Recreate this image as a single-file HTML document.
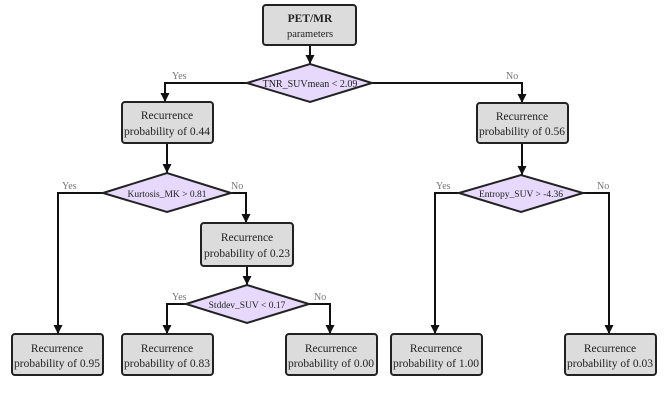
<!DOCTYPE html>
<html><head><meta charset="utf-8"><style>
html,body{margin:0;padding:0;background:#fff;}
svg{display:block;}
text{font-family:"Liberation Serif",serif;fill:#222;}
.b{fill:#dcdcdc;stroke:#222;stroke-width:2;}
.d{fill:#e6d9fb;stroke:#222;stroke-width:2;}
.l{fill:none;stroke:#111;stroke-width:2;}
.lb{font-size:10px;fill:#777;}
</style></head><body>
<svg width="666" height="400" viewBox="0 0 666 400">
<defs>
<marker id="m" viewBox="0 0 10 10" refX="10" refY="5" markerWidth="9" markerHeight="12" orient="auto" markerUnits="userSpaceOnUse"><path d="M0,0L10,5L0,10z" fill="#111"/></marker></defs>
<path class="l" d="M310,45V64" marker-end="url(#m)"/>
<path class="l" d="M247,83H165V102" marker-end="url(#m)"/>
<path class="l" d="M372,83H522V103" marker-end="url(#m)"/>
<path class="l" d="M167,143V173" marker-end="url(#m)"/>
<path class="l" d="M103,193H58V334" marker-end="url(#m)"/>
<path class="l" d="M231,193H246V223" marker-end="url(#m)"/>
<path class="l" d="M247,266V285" marker-end="url(#m)"/>
<path class="l" d="M186,304H167V334" marker-end="url(#m)"/>
<path class="l" d="M309,304H330V334" marker-end="url(#m)"/>
<path class="l" d="M522,143V175" marker-end="url(#m)"/>
<path class="l" d="M459,193H435V334" marker-end="url(#m)"/>
<path class="l" d="M583,193H609V334" marker-end="url(#m)"/>
<text class="lb" x="172" y="79">Yes</text>
<text class="lb" x="506" y="79">No</text>
<text class="lb" x="62" y="189">Yes</text>
<text class="lb" x="231" y="189">No</text>
<text class="lb" x="172" y="300">Yes</text>
<text class="lb" x="314" y="300">No</text>
<text class="lb" x="436" y="189">Yes</text>
<text class="lb" x="597" y="189">No</text>
<rect class="b" x="263" y="5" width="93" height="40" rx="3"/>
<text x="310" y="22" text-anchor="middle" font-size="11.5" font-weight="bold">PET/MR</text>
<text x="310" y="37" text-anchor="middle" font-size="10.5">parameters</text>
<polygon class="d" points="247,83 310,64 372,83 310,102"/>
<text x="310" y="87" text-anchor="middle" font-size="10">TNR_SUVmean &lt; 2.09</text>
<polygon class="d" points="103,193 167,173 231,193 167,212"/>
<text x="167" y="197" text-anchor="middle" font-size="9.5">Kurtosis_MK &gt; 0.81</text>
<polygon class="d" points="186,304 247,285 309,304 247,323"/>
<text x="247" y="308" text-anchor="middle" font-size="9.5">Stddev_SUV &lt; 0.17</text>
<polygon class="d" points="459,193 521,175 583,193 521,212"/>
<text x="521" y="197" text-anchor="middle" font-size="9.5">Entropy_SUV &gt; -4.36</text>
<g font-size="11.5" text-anchor="middle">
<rect class="b" x="122" y="102" width="91" height="41" rx="3"/><text x="167" y="119">Recurrence</text><text x="167" y="135">probability of 0.44</text>
<rect class="b" x="477" y="103" width="91" height="40" rx="3"/><text x="522" y="120">Recurrence</text><text x="522" y="135">probability of 0.56</text>
<rect class="b" x="201" y="223" width="92" height="43" rx="3"/><text x="247" y="241">Recurrence</text><text x="247" y="257">probability of 0.23</text>
<rect class="b" x="12" y="334" width="91" height="41" rx="3"/><text x="57" y="352">Recurrence</text><text x="57" y="367">probability of 0.95</text>
<rect class="b" x="122" y="334" width="91" height="41" rx="3"/><text x="167" y="352">Recurrence</text><text x="167" y="367">probability of 0.83</text>
<rect class="b" x="286" y="334" width="91" height="41" rx="3"/><text x="331" y="352">Recurrence</text><text x="331" y="367">probability of 0.00</text>
<rect class="b" x="391" y="334" width="91" height="41" rx="3"/><text x="436" y="352">Recurrence</text><text x="436" y="367">probability of 1.00</text>
<rect class="b" x="565" y="334" width="91" height="41" rx="3"/><text x="610" y="352">Recurrence</text><text x="610" y="367">probability of 0.03</text>
</g>
</svg>
</body></html>
